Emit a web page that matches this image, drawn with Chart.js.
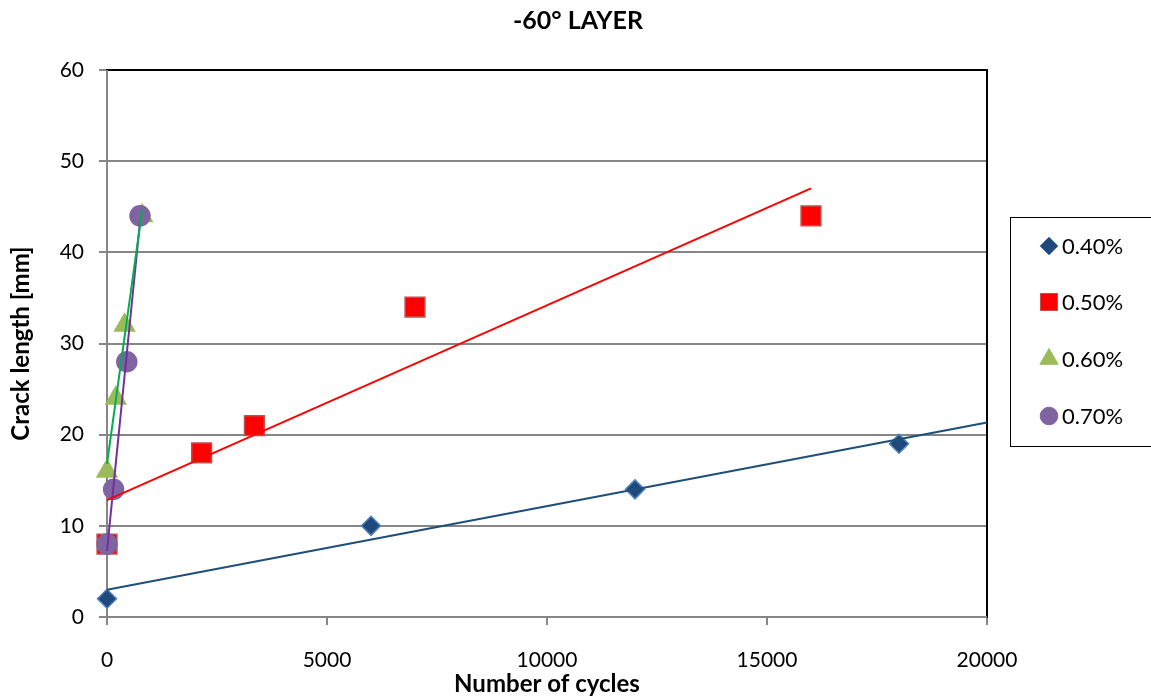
<!DOCTYPE html>
<html>
<head>
<meta charset="utf-8">
<script src="https://cdn.jsdelivr.net/npm/chart.js@4.4.1/dist/chart.umd.min.js"></script>
<style>
  html, body { margin: 0; padding: 0; background: #ffffff; }
  #wrap { width: 1151px; height: 699px; }
</style>
</head>
<body>
<div id="wrap"><canvas id="c" width="1151" height="699"></canvas></div>
<script>
// Crack length [mm] versus number of cycles, one series per strain amplitude
const seriesLabels = ['0.40%', '0.50%', '0.60%', '0.70%'];

const cycles40 = [0, 6000, 12000, 18000];
const crack40  = [2, 10, 14, 19];

const cycles50 = [0, 2150, 3350, 7000, 16000];
const crack50  = [8, 18, 21, 34, 44];

const cycles60 = [0, 200, 400, 800];
const crack60  = [16, 24, 32, 44];

const cycles70 = [0, 150, 450, 750];
const crack70  = [8, 14, 28, 44];

// x-span covered by each linear trend line
const trendSpan40 = [0, 20000];
const trendSpan50 = [0, 16000];
const trendSpan60 = [0, 800];
const trendSpan70 = [0, 750];

const xTicks = [0, 5000, 10000, 15000, 20000];
const yTicks = [0, 10, 20, 30, 40, 50, 60];

const FONT = "Lato, 'Open Sans', 'Liberation Sans', sans-serif";

function points(xs, ys) { return xs.map((x, i) => ({ x: x, y: ys[i] })); }

// least-squares linear trend evaluated at the ends of its span
function linearTrend(xs, ys, span) {
  const n = xs.length;
  const mx = xs.reduce((a, b) => a + b, 0) / n;
  const my = ys.reduce((a, b) => a + b, 0) / n;
  let sxy = 0, sxx = 0;
  for (let i = 0; i < n; i++) { sxy += (xs[i] - mx) * (ys[i] - my); sxx += (xs[i] - mx) * (xs[i] - mx); }
  const slope = sxy / sxx, icpt = my - slope * mx;
  return span.map(x => ({ x: x, y: icpt + slope * x }));
}

const styles = [
  { style: 'rectRot',  radius: 9.5, fill: '#1F497D', border: '#4F81BD', line: '#1F4E79', legendR: 9 },
  { style: 'rect',     radius: 14,  fill: '#FF0000', border: '#C0504D', line: '#FF0000', legendR: 12 },
  { style: 'triangle', radius: 11.5, fill: '#9BBB59', border: '#9BBB59', line: '#00B050', legendR: 10.5 },
  { style: 'circle',   radius: 10,  fill: '#8064A2', border: '#8064A2', line: '#7030A0', legendR: 8.8 }
];

const dataSets = [
  [cycles40, crack40, trendSpan40],
  [cycles50, crack50, trendSpan50],
  [cycles60, crack60, trendSpan60],
  [cycles70, crack70, trendSpan70]
];

const datasets = [];
dataSets.forEach((d, i) => {
  const s = styles[i];
  datasets.push({
    label: seriesLabels[i],
    data: points(d[0], d[1]),
    showLine: false,
    pointStyle: s.style,
    pointRadius: s.radius,
    pointHoverRadius: s.radius,
    pointBackgroundColor: s.fill,
    pointBorderColor: s.border,
    pointBorderWidth: 1.5,
    backgroundColor: s.fill,
    borderColor: s.border,
    clip: false,
    order: 4 - i
  });
});
dataSets.forEach((d, i) => {
  const s = styles[i];
  datasets.push({
    label: 'trend ' + seriesLabels[i],
    isTrend: true,
    data: linearTrend(d[0], d[1], d[2]),
    showLine: true,
    pointRadius: 0,
    borderColor: s.line,
    borderWidth: 2,
    fill: false,
    clip: false,
    order: 0
  });
});

// frame around the plot area and the chart title
const framePlugin = {
  id: 'frame',
  beforeDatasetsDraw(chart) {
    const a = chart.chartArea, ctx = chart.ctx;
    ctx.save();
    ctx.strokeStyle = '#000000';
    ctx.lineWidth = 2;
    ctx.strokeRect(a.left, a.top, a.right - a.left, a.bottom - a.top);
    ctx.strokeStyle = '#868686';
    ctx.lineWidth = 2;
    ctx.beginPath();
    ctx.moveTo(a.left, a.top); ctx.lineTo(a.left, a.bottom + 8);
    ctx.moveTo(a.left - 8, a.bottom); ctx.lineTo(a.right, a.bottom);
    ctx.stroke();
    ctx.restore();
  },
  afterDraw(chart) {
    const ctx = chart.ctx;
    ctx.save();
    ctx.fillStyle = '#000000';
    ctx.font = "bold 25px " + FONT;
    ctx.textAlign = 'center';
    ctx.textBaseline = 'middle';
    ctx.fillText('-60° LAYER', 578, 21);
    ctx.restore();
  }
};

// boxed legend with marker symbols to the right of the plot
const legendPlugin = {
  id: 'boxLegend',
  afterDraw(chart) {
    const ctx = chart.ctx;
    const left = 1010, top = 217, bottom = 446;
    ctx.save();
    ctx.strokeStyle = '#000000';
    ctx.lineWidth = 1;
    ctx.strokeRect(left + 0.5, top + 0.5, 1151 - left + 5, bottom - top);
    const rows = [246, 302, 359, 416];
    chart.data.datasets.forEach((ds, i) => {
      if (ds.isTrend) return;
      const s = styles[i];
      ctx.fillStyle = s.fill;
      ctx.strokeStyle = s.border;
      Chart.helpers.drawPoint(ctx, { pointStyle: s.style, radius: s.legendR, borderWidth: 1.5 }, 1049, rows[i]);
      ctx.fillStyle = '#000000';
      ctx.font = "22px " + FONT;
      ctx.textAlign = 'left';
      ctx.textBaseline = 'middle';
      ctx.fillText(ds.label, 1062, rows[i] + 1);
    });
    ctx.restore();
  }
};

new Chart(document.getElementById('c'), {
  type: 'scatter',
  data: { datasets: datasets },
  plugins: [framePlugin, legendPlugin],
  options: {
    responsive: false,
    animation: false,
    devicePixelRatio: 1,
    layout: { padding: { left: 0, top: 70, right: 164, bottom: 0 } },
    plugins: {
      legend: { display: false },
      title: { display: false },
      tooltip: { enabled: false }
    },
    scales: {
      x: {
        type: 'linear',
        min: 0, max: 20000,
        afterFit(scale) { scale.height = 82; },
        afterBuildTicks(scale) { scale.ticks = xTicks.map(v => ({ value: v })); },
        border: { display: false },
        grid: { drawOnChartArea: false, drawTicks: true, tickLength: 8, color: '#868686', lineWidth: 2 },
        ticks: { padding: 23, color: '#000000', font: { family: FONT, size: 21 }, maxRotation: 0,
                 callback: v => String(v) },
        title: { display: true, text: 'Number of cycles', color: '#000000',
                 font: { family: FONT, size: 24, weight: 'bold' }, padding: { top: 0, bottom: 0 } }
      },
      y: {
        type: 'linear',
        min: 0, max: 60,
        afterFit(scale) { scale.width = 107; },
        afterBuildTicks(scale) { scale.ticks = yTicks.map(v => ({ value: v })); },
        border: { display: false },
        grid: { drawOnChartArea: true, drawTicks: true, tickLength: 8, color: '#868686', lineWidth: 2 },
        ticks: { padding: 15, color: '#000000', font: { family: FONT, size: 21 } },
        title: { display: true, text: 'Crack length [mm]', color: '#000000',
                 font: { family: FONT, size: 24, weight: 'bold' }, padding: { top: 7, bottom: 0 } }
      }
    }
  }
});
</script>
</body>
</html>
